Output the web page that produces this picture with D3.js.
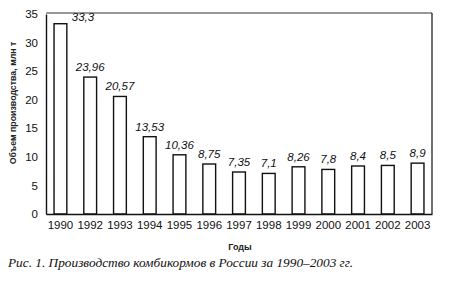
<!DOCTYPE html>
<html><head><meta charset="utf-8">
<script src="https://cdn.jsdelivr.net/npm/d3@7"></script>
<style>body{margin:0;background:#fff}</style>
</head><body>
<svg id="c" width="458" height="290"></svg>
<script>
const years = ["1990","1992","1993","1994","1995","1996","1997","1998","1999","2000","2001","2002","2003"];
const values = [33.3,23.96,20.57,13.53,10.36,8.75,7.35,7.1,8.26,7.8,8.4,8.5,8.9];
const labels = ["33,3","23,96","20,57","13,53","10,36","8,75","7,35","7,1","8,26","7,8","8,4","8,5","8,9"];
const yTicks = [0,5,10,15,20,25,30,35];

const svg = d3.select("#c");
const L=46,R=432,T=14,B=214;
const x = d3.scaleBand().domain(years).range([L,R]).paddingInner(0.57).paddingOuter(0.27);
const y = d3.scaleLinear().domain([0,35]).range([B,T]);

// frame
svg.append("line").attr("x1",L).attr("x2",R).attr("y1",13).attr("y2",13).attr("stroke","#333").attr("stroke-width",1);
svg.append("line").attr("x1",R).attr("x2",R).attr("y1",13).attr("y2",B).attr("stroke","#222").attr("stroke-width",1.3);

// bars
svg.selectAll("rect.bar").data(values).enter().append("rect")
  .attr("x",(d,i)=>x(years[i])).attr("width",x.bandwidth())
  .attr("y",d=>y(d)).attr("height",d=>B-y(d))
  .attr("fill","#fff").attr("stroke","#111").attr("stroke-width",1.4);

// y axis
const ya = svg.append("g").attr("transform",`translate(${L},0)`)
  .call(d3.axisLeft(y).tickValues(yTicks).tickSize(0).tickPadding(8));
ya.select(".domain").attr("stroke","#111").attr("stroke-width",1.4);
ya.selectAll("text").attr("font-family","Liberation Sans, Arial, sans-serif").attr("font-size",11.5).attr("fill","#111");

// x axis
const xa = svg.append("g").attr("transform",`translate(0,${B})`)
  .call(d3.axisBottom(x).tickSize(0).tickPadding(7));
xa.select(".domain").attr("stroke","#111").attr("stroke-width",1.6);
xa.selectAll("text").attr("font-family","Liberation Sans, Arial, sans-serif").attr("font-size",11.5).attr("fill","#111");

// value labels
svg.selectAll("text.val").data(values).enter().append("text")
  .attr("x",(d,i)=> i===0 ? x(years[i])+x.bandwidth()+5 : x(years[i])+x.bandwidth()/2)
  .attr("y",(d,i)=> i===0 ? y(d)-3 : y(d)-6)
  .attr("text-anchor",(d,i)=> i===0 ? "start":"middle")
  .attr("font-family","Liberation Sans, Arial, sans-serif").attr("font-style","italic")
  .attr("font-size",11.5).attr("fill","#111")
  .text((d,i)=>labels[i]);

// axis titles
svg.append("text").attr("transform","translate(16,103) rotate(-90)")
  .attr("text-anchor","middle").attr("font-family","Liberation Sans, Arial, sans-serif")
  .attr("font-size",8.8).attr("font-weight","bold").attr("fill","#222")
  .text("Объем производства, млн т");
svg.append("text").attr("x",240).attr("y",250).attr("text-anchor","middle")
  .attr("font-family","Liberation Sans, Arial, sans-serif").attr("font-size",9).attr("font-weight","bold").attr("fill","#222")
  .text("Годы");
svg.append("text").attr("x",8).attr("y",267)
  .attr("font-family","Liberation Serif, Times New Roman, serif").attr("font-style","italic")
  .attr("font-size",13.3).attr("fill","#111")
  .text("Рис. 1. Производство комбикормов в России за 1990–2003 гг.");
</script>
</body></html>
